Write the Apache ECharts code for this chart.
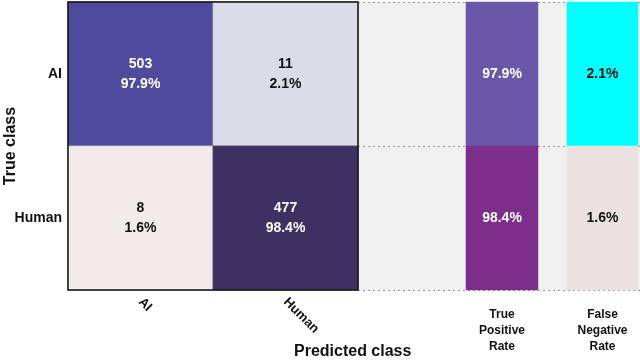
<!DOCTYPE html>
<html>
<head>
<meta charset="utf-8">
<script src="https://cdn.jsdelivr.net/npm/echarts@6/dist/echarts.min.js"></script>
<style>
  html, body { margin: 0; padding: 0; background: #fff; }
  #chart { width: 640px; height: 360px; }
</style>
</head>
<body>
<div id="chart"></div>
<script>
// data
const classes = ['AI', 'Human']
const counts = [[503, 11], [8, 477]]      // rows: true class, cols: predicted
const percents = [[97.9, 2.1], [1.6, 98.4]]
const tprValues = [97.9, 98.4]
const fnrValues = [2.1, 1.6]
const tprLabel = 'True\nPositive\nRate'
const fnrLabel = 'False\nNegative\nRate'

// styles
const cellColors = [['#4f4a9c', '#dcdce8'], ['#f3ebeb', '#3c3162']]
const cellText = [['#fff', '#111'], ['#111', '#fff']]
const tprColors = ['#6958aa', '#7d2d8a']
const tprText = ['#fff', '#fff']
const fnrColors = ['#00ffff', '#ebe1e1']
const fnrText = ['#111', '#111']
const font = 'Liberation Sans, Arial, sans-serif'

const matrixData = []
classes.forEach((tc, r) => {
  classes.forEach((pc, c) => {
    matrixData.push({
      value: [c, r, counts[r][c]],
      itemStyle: { color: cellColors[r][c] },
      label: { color: cellText[r][c] },
      pct: percents[r][c]
    })
  })
})

function rateData(values, colors, texts) {
  return values.map((v, r) => ({
    value: [0, r, v],
    itemStyle: { color: colors[r] },
    label: { color: texts[r] }
  }))
}

function rateAxes(idx, label) {
  return {
    x: {
      type: 'category', gridIndex: idx, data: [label],
      axisLine: { show: false }, axisTick: { show: false },
      axisLabel: { fontFamily: font, fontWeight: 'bold', fontSize: 12, lineHeight: 16, color: '#111', margin: 17 }
    },
    y: {
      type: 'category', gridIndex: idx, data: classes, inverse: true,
      axisLine: { show: false }, axisTick: { show: false }, axisLabel: { show: false }
    }
  }
}

const tprAx = rateAxes(2, tprLabel)
const fnrAx = rateAxes(3, fnrLabel)

const option = {
  backgroundColor: '#fff',
  animation: false,
  grid: [
    { left: 68, top: 2, width: 290, height: 288, show: true, borderColor: '#111', borderWidth: 1.5, z: 3, outerBoundsMode: 'none' },
    { left: 358, top: 2, width: 282, height: 288, show: true, backgroundColor: '#f0f0f0', borderWidth: 0, outerBoundsMode: 'none' },
    { left: 466, top: 2, width: 72, height: 288, outerBoundsMode: 'none' },
    { left: 567, top: 2, width: 71, height: 288, outerBoundsMode: 'none' }
  ],
  xAxis: [
    {
      type: 'category', gridIndex: 0, data: classes,
      axisLine: { show: false }, axisTick: { show: false },
      axisLabel: { rotate: -45, fontFamily: font, fontWeight: 'bold', fontSize: 13, color: '#111', margin: 10 }
    },
    {
      type: 'value', gridIndex: 1, min: 0, max: 1,
      axisLine: { show: false }, axisTick: { show: false }, axisLabel: { show: false }, splitLine: { show: false }
    },
    tprAx.x,
    fnrAx.x
  ],
  yAxis: [
    {
      type: 'category', gridIndex: 0, data: classes, inverse: true,
      axisLine: { show: false }, axisTick: { show: false },
      axisLabel: { fontFamily: font, fontWeight: 'bold', fontSize: 14, color: '#111', margin: 6 }
    },
    {
      type: 'value', gridIndex: 1, min: 0, max: 2, interval: 1,
      axisLine: { show: false }, axisTick: { show: false }, axisLabel: { show: false },
      splitLine: { show: true, lineStyle: { color: '#999', type: [2, 3], width: 1 } }
    },
    tprAx.y,
    fnrAx.y
  ],
  graphic: [
    {
      type: 'text', x: 11, y: 146, rotation: Math.PI / 2,
      style: { text: 'True class', font: 'bold 16px ' + font, fill: '#111', align: 'center', verticalAlign: 'middle' }
    },
    {
      type: 'text', left: 294, top: 344,
      style: { text: 'Predicted class', font: 'bold 16px ' + font, fill: '#111' }
    }
  ],
  series: [
    {
      type: 'heatmap', xAxisIndex: 0, yAxisIndex: 0, data: matrixData,
      itemStyle: { borderColor: '#8a8a9a', borderWidth: 0.5 },
      label: {
        show: true, fontFamily: font, fontWeight: 'bold', fontSize: 14, lineHeight: 20,
        formatter: p => p.value[2] + '\n' + p.data.pct.toFixed(1) + '%'
      },
      emphasis: { disabled: true }
    },
    {
      type: 'heatmap', xAxisIndex: 2, yAxisIndex: 2, data: rateData(tprValues, tprColors, tprText),
      label: { show: true, fontFamily: font, fontWeight: 'bold', fontSize: 14, formatter: p => p.value[2].toFixed(1) + '%' },
      emphasis: { disabled: true }
    },
    {
      type: 'heatmap', xAxisIndex: 3, yAxisIndex: 3, data: rateData(fnrValues, fnrColors, fnrText),
      label: { show: true, fontFamily: font, fontWeight: 'bold', fontSize: 14, formatter: p => p.value[2].toFixed(1) + '%' },
      emphasis: { disabled: true }
    }
  ]
}

const chart = echarts.init(document.getElementById('chart'))
chart.setOption(option)
</script>
</body>
</html>
